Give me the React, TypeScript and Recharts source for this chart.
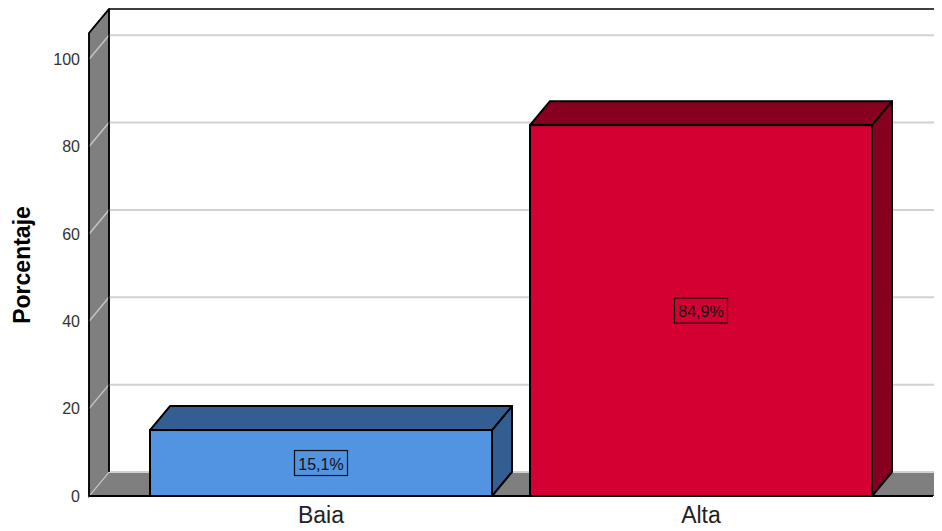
import React from "react";
import {
  BarChart,
  Bar,
  XAxis,
  YAxis,
  ReferenceArea,
  LabelList,
  Cell,
} from "recharts";

const categories = ["Baja", "Alta"];
const percentages = [15.1, 84.9];
const yTicks = [0, 20, 40, 60, 80, 100];
const frontColors = ["#5294E2", "#D50032"];
const sideColors = ["#345E91", "#870020"];

const Y_MAX = 106;
const DX = 20;
const DY = -24;
const PAD = 42;
const FONT = "'Liberation Sans', Arial, sans-serif";

const data = categories.map((name, i) => ({ name, value: percentages[i] }));

// 3D box behind the bars: left wall, floor, gridlines on the back wall.
// The reference area spans the padded x range, so the padding is added back.
const Box3D = (props: any) => {
  const x = props.x - PAD;
  const width = props.width + 2 * PAD;
  const { y, height } = props;
  const bottom = y + height;
  const tickY = (t: number) => bottom - (t / Y_MAX) * height;
  return (
    <g>
      <polygon
        points={`${x},${y} ${x + DX},${y + DY} ${x + DX},${bottom + DY} ${x},${bottom}`}
        fill="#7f7f7f"
        stroke="#000"
        strokeWidth={1.5}
      />
      <polygon
        points={`${x},${bottom} ${x + width},${bottom} ${x + width + DX},${bottom + DY} ${x + DX},${bottom + DY}`}
        fill="#7f7f7f"
        stroke="#333"
        strokeWidth={1}
      />
      {yTicks.map((t) => {
        const ty = tickY(t);
        return (
          <g key={t}>
            <line x1={x} y1={ty} x2={x + DX} y2={ty + DY} stroke="#c4c4c4" strokeWidth={1.5} />
            <line x1={x + DX} y1={ty + DY} x2={x + width + DX} y2={ty + DY} stroke="#d2d2d2" strokeWidth={2} />
          </g>
        );
      })}
      <line x1={x + DX} y1={y + DY} x2={x + width + DX} y2={y + DY} stroke="#000" strokeWidth={1.5} />
      <line x1={x + DX} y1={y + DY} x2={x + DX} y2={bottom + DY} stroke="#000" strokeWidth={1.5} />
      <line x1={x} y1={y} x2={x} y2={bottom} stroke="#000" strokeWidth={1.5} />
      <line x1={x} y1={y} x2={x + DX} y2={y + DY} stroke="#000" strokeWidth={1.5} />
      <line x1={x} y1={bottom} x2={x + width} y2={bottom} stroke="#000" strokeWidth={2} />
    </g>
  );
};

const Bar3D = (props: any) => {
  const { x, y, width, height, index } = props;
  const side = sideColors[index];
  return (
    <g>
      <polygon
        points={`${x + width},${y} ${x + width + DX},${y + DY} ${x + width + DX},${y + height + DY} ${x + width},${y + height}`}
        fill={side}
        stroke="#000"
        strokeWidth={2}
        strokeLinejoin="round"
      />
      <polygon
        points={`${x},${y} ${x + DX},${y + DY} ${x + width + DX},${y + DY} ${x + width},${y}`}
        fill={side}
        stroke="#000"
        strokeWidth={2}
        strokeLinejoin="round"
      />
      <rect x={x} y={y} width={width} height={height} fill={frontColors[index]} stroke="#000" strokeWidth={2} />
    </g>
  );
};

const ValueLabel = (props: any) => {
  const { x, y, width, height, value } = props;
  const cx = x + width / 2;
  const cy = y + height / 2;
  const text = `${Number(value).toFixed(1).replace(".", ",")}%`;
  const w = 53;
  const h = 25;
  return (
    <g>
      <rect x={cx - w / 2} y={cy - h / 2} width={w} height={h} fill="none" stroke="#111" strokeWidth={1.2} />
      <text x={cx} y={cy + 1} textAnchor="middle" dominantBaseline="central" fontSize={16} fontFamily={FONT} fill="#111">
        {text}
      </text>
    </g>
  );
};

const YTitle = () => {
  const cy = 265;
  return (
    <text
      x={22}
      y={cy}
      transform={`rotate(-90, 22, ${cy})`}
      textAnchor="middle"
      dominantBaseline="central"
      fontSize={23}
      fontWeight="bold"
      fontFamily={FONT}
      fill="#000"
    >
      Porcentaje
    </text>
  );
};

export default function App() {
  return (
    <div style={{ width: 942, height: 531, margin: -8, background: "#fff" }}>
      <BarChart
        width={942}
        height={531}
        data={data}
        margin={{ top: 33, right: 9, bottom: 0, left: 0 }}
        barCategoryGap="5%"
      >
        <XAxis
          dataKey="name"
          height={35}
          padding={{ left: PAD, right: PAD }}
          axisLine={false}
          tickLine={false}
          tickSize={0}
          tickMargin={11}
          tick={{ fontSize: 23, fill: "#222", fontFamily: FONT }}
        />
        <YAxis
          width={89}
          domain={[0, Y_MAX]}
          ticks={yTicks}
          axisLine={false}
          tickLine={false}
          tickSize={0}
          tickMargin={9}
          tick={{ fontSize: 16, fill: "#333", fontFamily: FONT }}
          label={<YTitle />}
        />
        <ReferenceArea y1={0} y2={Y_MAX} shape={<Box3D />} ifOverflow="visible" />
        <Bar dataKey="value" shape={<Bar3D />} isAnimationActive={false}>
          {data.map((d, i) => (
            <Cell key={d.name} fill={frontColors[i]} />
          ))}
          <LabelList dataKey="value" content={<ValueLabel />} />
        </Bar>
      </BarChart>
    </div>
  );
}
